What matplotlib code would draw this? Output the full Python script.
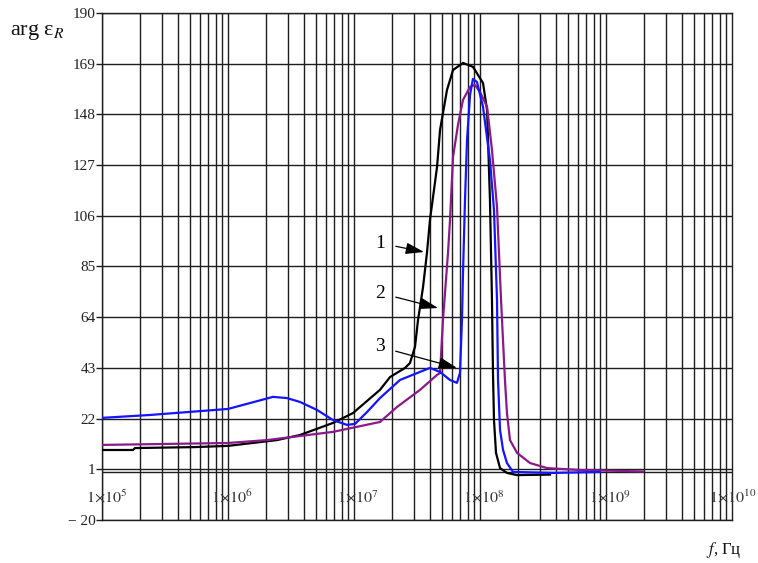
import numpy as np
import matplotlib
matplotlib.use("Agg")
import matplotlib.pyplot as plt
import matplotlib.transforms as mtransforms

plt.rcParams['mathtext.fontset'] = 'stix'
plt.rcParams['font.family'] = ['Liberation Serif', 'DejaVu Serif']

# log10(frequency, Hz) and arg eps_R (degrees)
lf1 = [5.000, 5.246, 5.262, 5.738, 6.000, 6.389, 6.571, 6.833, 6.992, 7.206, 7.286,
       7.405, 7.444, 7.484, 7.508, 7.548, 7.579, 7.603, 7.659, 7.683, 7.738, 7.786,
       7.865, 7.944, 8.024, 8.056, 8.079, 8.095, 8.103, 8.111, 8.127, 8.159, 8.214,
       8.294, 8.556]
v1 = [9.0, 9.0, 9.8, 10.2, 10.7, 13.1, 15.2, 20.2, 24.3, 33.9, 39.2,
      43.0, 45.0, 51.7, 62.8, 76.5, 90.6, 104.3, 126.2, 141.6, 158.1, 166.4,
      169.3, 167.7, 161.0, 149.8, 112.6, 71.1, 40.9, 21.4, 7.8, 1.5, -0.5,
      -1.4, -1.2]

lf2 = [5.000, 6.000, 6.310, 6.833, 7.206, 7.341, 7.524, 7.659, 7.683, 7.706, 7.746,
       7.762, 7.786, 7.825, 7.865, 7.921, 7.960, 8.000, 8.056, 8.095, 8.135, 8.167,
       8.198, 8.214, 8.238, 8.294, 8.397, 8.532, 8.794, 9.294]
v2 = [11.1, 11.9, 13.1, 16.5, 20.6, 26.8, 33.9, 40.1, 40.9, 62.8, 90.6,
      104.3, 130.4, 143.6, 154.0, 159.4, 160.2, 157.3, 151.1, 133.3, 109.7, 71.1,
      38.0, 24.3, 13.1, 7.8, 3.6, 1.5, 0.7, 0.1]

lf3 = [5.000, 5.381, 6.000, 6.357, 6.468, 6.571, 6.706, 6.833, 6.944, 7.008, 7.103,
       7.206, 7.365, 7.603, 7.683, 7.762, 7.817, 7.841, 7.857, 7.865, 7.881, 7.897,
       7.921, 7.944, 7.976, 8.024, 8.079, 8.111, 8.135, 8.143, 8.159, 8.183, 8.214,
       8.262, 8.579, 8.952]
v3 = [22.3, 23.5, 26.0, 31.0, 30.5, 28.9, 25.6, 21.4, 19.4, 19.8, 24.7,
      30.5, 38.0, 43.0, 41.3, 38.0, 36.8, 40.9, 62.8, 82.3, 112.6, 137.4,
      156.1, 162.7, 161.4, 151.1, 129.1, 108.4, 71.1, 38.0, 17.3, 9.0, 3.6,
      -0.1, -0.5, -0.1]

yticks = [-20, 1, 22, 43, 64, 85, 106, 127, 148, 169, 190]
ytick_labels = ['\u2212 20', '1', '22', '43', '64', '85', '106', '127', '148', '169', '190']
xdecades = [5, 6, 7, 8, 9, 10]

fig = plt.figure(figsize=(7.58, 5.63), dpi=100)
ax = fig.add_axes([102/758, 1-520/563, 630/758, 507/563])
ax.set_xscale('log')
ax.set_xlim(1e5, 1e10)
ax.set_ylim(-20, 190)

gc = '#1e1e1e'
for d in xdecades[:-1]:
    for m in range(1, 10):
        ax.axvline(m * 10.0**d, color=gc, lw=1.0, zorder=1)
for yt in yticks:
    ax.axhline(yt, color=gc, lw=1.0, zorder=1)
ax.axhline(0, color=gc, lw=1.0, zorder=1)

for s in ax.spines.values():
    s.set_color(gc)
    s.set_linewidth(1.0)

ax.set_yticks(yticks)
ax.set_yticklabels(ytick_labels, fontsize=11)
ax.tick_params(axis='y', direction='out', length=4, width=1.0, pad=0.5, colors=gc)
ax.tick_params(axis='y', labelcolor='#222222')
ax.set_xticks([])
ax.xaxis.set_minor_locator(matplotlib.ticker.NullLocator())

for d in xdecades[:-1]:
    ax.text(10.0**d * 1.08, -11, r'$1{\times}10^{%d}$' % d, ha='center', va='center',
            fontsize=11.5, color='#333333', zorder=3)
# last label sits at the right edge of the figure, as in the reference
trans = mtransforms.blended_transform_factory(fig.transFigure, ax.transData)
ax.text(756/758, -11, r'$1{\times}10^{%d}$' % xdecades[-1], ha='right', va='center',
        fontsize=11.5, color='#333333', zorder=3, transform=trans)

f1 = 10.0 ** np.array(lf1)
f2 = 10.0 ** np.array(lf2)
f3 = 10.0 ** np.array(lf3)
ax.plot(f1, v1, color='#000000', lw=1.6, zorder=4)
ax.plot(f2, v2, color='#8a1a8a', lw=1.6, zorder=4)
ax.plot(f3, v3, color='#1414ff', lw=1.6, zorder=5)

ap = dict(arrowstyle='-|>,head_length=0.8,head_width=0.25', color='black', lw=0.9,
          shrinkA=6, shrinkB=0)
ax.annotate('1', xy=(10**7.556, 91.0), xytext=(10**7.206, 94.7), fontsize=14,
            ha='center', va='center', arrowprops=ap, zorder=6)
ax.annotate('2', xy=(10**7.667, 67.8), xytext=(10**7.206, 74.0), fontsize=14,
            ha='center', va='center', arrowprops=ap, zorder=6)
ax.annotate('3', xy=(10**7.817, 43.0), xytext=(10**7.206, 51.7), fontsize=14,
            ha='center', va='center', arrowprops=ap, zorder=6)

fig.text(10/758, 1-32/563, r'arg ε$_{R}$', fontsize=16,
         ha='left', va='center', color='#111111')
fig.text(706/758, 1-550/563, r'$f$, Гц', fontsize=12, ha='left', va='center',
         color='#111111')

fig.savefig('out.png', dpi=100)
